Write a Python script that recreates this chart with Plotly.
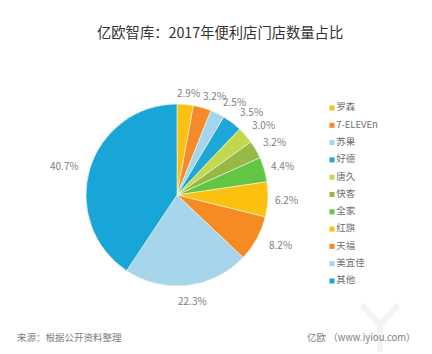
import math
import plotly.graph_objects as go

categories = ["罗森", "7-ELEVEn", "苏果", "好德", "唐久", "快客", "全家", "红旗", "天福", "美宜佳", "其他"]
shares = [2.9, 3.2, 2.5, 3.5, 3.0, 3.2, 4.4, 6.2, 8.2, 22.3, 40.7]
colors = ["#FBC112", "#F58A2A", "#A5D5EC", "#1FA6D9", "#C2D94F", "#96B844",
          "#62C644", "#FCC00E", "#F68B24", "#A6D4EA", "#18A6D9"]
# small hand adjustments of the value labels away from their radial anchor
label_dx = [2, 8, 10, 10, 7, 6, 4, 4, 11, 4, -11]
label_dy = [-2, -3, -3, -3, -4, -3, -1, 0, 1, 5, 0]

W, H = 432, 354
PAGE = 8  # the page's own body margin
FONT = "Noto Sans CJK SC"
CX, CY, R = 177, 195, 91
px = lambda x: (x - PAGE) / (W - PAGE)
py = lambda y: 1 - (y - PAGE) / (H - PAGE)

fig = go.Figure()
fig.add_trace(go.Pie(
    labels=categories, values=shares, sort=False, direction="clockwise", rotation=0,
    marker=dict(colors=colors, line=dict(color="#F4F8E8", width=0.6)),
    textinfo="none", hoverinfo="label+percent", showlegend=False,
    domain=dict(x=[px(CX - R), px(CX + R)], y=[py(CY + R), py(CY - R)]),
))

# legend column: small square keys with 17.3 px row spacing
ROW0, ROW = 108, 17.3
fig.add_trace(go.Scatter(
    x=[0] * len(categories), y=list(range(len(categories))), mode="markers+text",
    marker=dict(symbol="square", size=5, color=colors),
    text=categories, textposition="middle right",
    textfont=dict(size=9.5, color="#6E6E6E", family=FONT),
    hoverinfo="skip", showlegend=False,
))

annotations = [
    dict(text="亿欧智库：2017年便利店门店数量占比", x=px(219.5), y=py(31), xref="paper", yref="paper",
         xanchor="center", yanchor="middle",
         showarrow=False, font=dict(size=14.3, color="#333333", family=FONT)),
    dict(text="来源：根据公开资料整理", x=px(15), y=py(337), xref="paper", yref="paper",
         xanchor="left", yanchor="middle",
         showarrow=False, font=dict(size=9.5, color="#808080", family=FONT)),
    dict(text="亿欧 （www.iyiou.com）", x=px(418), y=py(337), xref="paper", yref="paper",
         xanchor="right", yanchor="middle",
         showarrow=False, font=dict(size=9.5, color="#808080", family=FONT)),
]
total = sum(shares)
cum = 0
for v, dx, dy in zip(shares, label_dx, label_dy):
    a = 2 * math.pi * (cum + v / 2) / total
    cum += v
    lx = CX + (R + 15) * math.sin(a) + dx
    ly = CY - (R + 10) * math.cos(a) + dy
    annotations.append(dict(text=f"{v:.1f}%", x=px(lx), y=py(ly), xref="paper", yref="paper",
                            xanchor="center", yanchor="middle", borderpad=0,
                            showarrow=False, font=dict(size=10, color="#808080", family=FONT)))

# faint watermark logo, bottom right
logo = [(380, 352, 380, 325), (380, 325, 362, 305), (380, 325, 398, 305)]
shapes = [dict(type="line", xref="paper", yref="paper", x0=px(a), y0=py(b), x1=px(c), y1=py(d),
               line=dict(color="#F3F3F3", width=6), layer="below") for a, b, c, d in logo]

fig.update_layout(
    width=W - PAGE, height=H - PAGE, margin=dict(l=0, r=0, t=0, b=0),
    paper_bgcolor="white", plot_bgcolor="rgba(0,0,0,0)", font=dict(family=FONT),
    xaxis=dict(visible=False, range=[PAGE - 332, W - 332], fixedrange=True),
    yaxis=dict(visible=False, range=[(H - ROW0) / ROW, (PAGE - ROW0) / ROW], fixedrange=True),
    annotations=annotations, shapes=shapes,
)
fig.write_html("out.html")
